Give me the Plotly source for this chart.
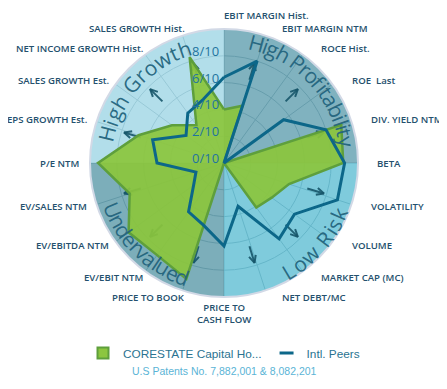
import math
import plotly.graph_objects as go

# ---------------- data ----------------
categories = [
    "EBIT MARGIN Hist.", "EBIT MARGIN NTM", "ROCE Hist.", "ROE  Last", "DIV. YIELD NTM",
    "BETA", "VOLATILITY", "VOLUME", "MARKET CAP (MC)", "NET DEBT/MC",
    "PRICE TO<br>CASH FLOW", "PRICE TO BOOK", "EV/EBIT NTM", "EV/EBITDA NTM", "EV/SALES NTM",
    "P/E NTM", "EPS GROWTH Est.", "SALES GROWTH Est.", "NET INCOME GROWTH Hist.", "SALES GROWTH Hist.",
]
corestate = [4.0, 4.5, 0.0, 0.0, 9.2, 8.9, 5.1, 4.4, 4.1, 0.0,
             0.0, 9.1, 8.5, 8.8, 7.4, 9.4, 6.7, 4.8, 3.5, 8.3]
peers = [6.4, 8.0, 0.0, 5.5, 8.0, 9.0, 8.9, 6.5, 7.0, 3.4,
         6.2, 4.9, 4.5, 2.8, 2.2, 5.0, 5.6, 3.5, 4.6, 5.0]
series_names = ["CORESTATE Capital Ho...", "Intl. Peers"]
radial_tickvals = [0, 2, 4, 6, 8]
radial_ticktext = ["0/10", "2/10", "4/10", "6/10", "8/10"]
quadrant_names = ["High Profitability", "Low Risk", "Undervalued", "High Growth"]
quadrant_colors = ["rgb(96,159,175)", "rgb(95,190,211)", "rgb(91,154,169)", "rgb(159,214,229)"]
patent_text = "U.S Patents No. 7,882,001 & 8,082,201"

GREEN_FILL = "rgba(139,198,60,0.92)"
GREEN_LINE = "#5e9f3c"
BLUE = "#0c6789"

# ---------------- geometry ----------------
OFF = 8                      # default page body margin
W, H = 447 - OFF, 389 - OFF  # figure size so the page fits the window
CX, CY, RP = 224 - OFF, 163 - OFF, 134
RMAX = 10
PX_PER_UNIT = RP / RMAX
n = len(categories)
step = 360 / n
theta = [i * step for i in range(n)]


def closed(v):
    return list(v) + [v[0]]


def paper(px, py):
    return px / W, 1 - py / H


fig = go.Figure()

# quadrant backgrounds (translucent so the grid shows through)
fig.add_trace(go.Barpolar(
    r=[RMAX] * 4, theta=[45, 135, 225, 315], width=[90] * 4,
    marker=dict(color=quadrant_colors, opacity=0.8, line=dict(width=0)),
    showlegend=False, hoverinfo="skip",
))

# direction arrows (outward) in every quadrant, drawn as line arrows
arrow_offsets = [17, 45, 73]
r_tail, r_tip, r_wing = 6.5, 7.8, 7.25
wing_deg = math.degrees(math.atan(3.5 / (r_wing * PX_PER_UNIT)))
ar, at = [], []
for q in range(4):
    for off in arrow_offsets:
        th = q * 90 + off
        ar += [r_tail, r_tip, None, r_wing, r_tip, r_wing, None]
        at += [th, th, None, th - wing_deg, th, th + wing_deg, None]
fig.add_trace(go.Scatterpolar(
    r=ar, theta=at, mode="lines",
    line=dict(color="rgba(22,85,105,0.9)", width=2),
    connectgaps=False, showlegend=False, hoverinfo="skip",
))

fig.add_trace(go.Scatterpolar(
    r=closed(corestate), theta=closed(theta), name=series_names[0],
    mode="lines", fill="toself", fillcolor=GREEN_FILL,
    line=dict(color=GREEN_LINE, width=2.5), showlegend=False,
))
fig.add_trace(go.Scatterpolar(
    r=closed(peers), theta=closed(theta), name=series_names[1],
    mode="lines", line=dict(color=BLUE, width=3), showlegend=False,
))
# legend entries
fig.add_trace(go.Scatterpolar(
    r=[None], theta=[None], name=series_names[0], mode="markers",
    marker=dict(symbol="square", size=11, color="#8cc63f", line=dict(color=GREEN_LINE, width=2)),
))
fig.add_trace(go.Scatterpolar(
    r=[None], theta=[None], name=series_names[1], mode="markers",
    marker=dict(symbol="line-ew", size=10, line=dict(color=BLUE, width=3)),
))

annotations = []

# ---------------- category labels around the circle ----------------
for th, lab in zip(theta, categories):
    s, c = math.sin(math.radians(th)), math.cos(math.radians(th))
    py = CY - 141 * c
    if abs(s) < 1e-6 and c < 0:
        px, xa, py = CX, "center", CY + 150
    elif abs(s) < 1e-6:
        px, xa, py = CX - 2, "left", CY - 148
    elif s > 0:
        px, xa = CX + 151 * s + 10 * c * c, "left"
    else:
        px, xa = CX + 146 * s + 3 + 6 * c * c, "right"
    x, y = paper(px, py)
    annotations.append(dict(
        x=x, y=y, xref="paper", yref="paper", text=lab, showarrow=False,
        xanchor=xa, yanchor="middle", align="center",
        font=dict(family="Open Sans", size=9.6, color="#24506d", weight=600),
    ))

# ---------------- curved quadrant titles ----------------
cw = {"H": .742, "i": .254, "g": .559, "h": .614, " ": .26, "G": .68, "r": .408, "o": .594,
      "w": .757, "t": .353, "P": .593, "f": .342, "a": .57, "b": .613, "l": .254, "y": .501,
      "L": .533, "R": .615, "s": .477, "k": .513, "U": .713, "n": .614, "d": .613, "e": .561,
      "v": .5, "u": .614}
# (first char angle, last char angle, radius px, top?) per quadrant title
title_geo = {
    "High Growth": (-76, -19, 121, True),
    "High Profitability": (15, 80, 124, True),
    "Low Risk": (149, 114, 126, False),
    "Undervalued": (247, 200, 121, False),
}
for name in quadrant_names:
    a0, a1, rr, top = title_geo[name]
    ws = [cw.get(ch, .55) for ch in name]
    centers = []
    acc = 0
    for w_ in ws:
        centers.append(acc + w_ / 2)
        acc += w_
    for ch, s in zip(name, centers):
        if ch == " ":
            continue
        frac = (s - centers[0]) / (centers[-1] - centers[0])
        th = a0 + (a1 - a0) * frac
        x, y = paper(CX + rr * math.sin(math.radians(th)), CY - rr * math.cos(math.radians(th)))
        annotations.append(dict(
            x=x, y=y, xref="paper", yref="paper", text=ch, showarrow=False,
            xanchor="center", yanchor="middle", textangle=th if top else th - 180,
            font=dict(family="Open Sans", size=21, color="rgba(35,100,125,0.95)"),
        ))

# radial tick labels, just left of the vertical radial axis
for v, t in zip(radial_tickvals, radial_ticktext):
    x, y = paper(CX - 3, CY - v * PX_PER_UNIT - 5)
    annotations.append(dict(
        x=x, y=y, xref="paper", yref="paper", text=t, showarrow=False,
        xanchor="right", yanchor="middle",
        font=dict(family="Open Sans", size=13, color="#1f74a0"),
    ))

x, y = paper(CX, 371 - OFF)
annotations.append(dict(
    x=x, y=y, xref="paper", yref="paper", text=patent_text, showarrow=False,
    xanchor="center", yanchor="middle",
    font=dict(family="Liberation Sans, Arial", size=10.5, color="#5ab4d6"),
))

GRID = "rgb(125,148,158)"
lx, ly = paper(CX, 353 - OFF)
fig.update_layout(
    width=W, height=H,
    margin=dict(l=0, r=0, t=0, b=0),
    paper_bgcolor="white",
    polar=dict(
        domain=dict(x=[(CX - RP) / W, (CX + RP) / W], y=[1 - (CY + RP) / H, 1 - (CY - RP) / H]),
        bgcolor="white",
        angularaxis=dict(
            type="linear", thetaunit="degrees", rotation=90, direction="clockwise",
            tickmode="array", tickvals=theta, showticklabels=False,
            showgrid=True, gridcolor=GRID, gridwidth=1,
            showline=True, linecolor="#d2d9e6", linewidth=2, ticks="",
        ),
        radialaxis=dict(
            range=[0, RMAX], angle=90,
            tickmode="array", tickvals=radial_tickvals, showticklabels=False,
            showline=False, ticks="", showgrid=True, gridcolor=GRID, gridwidth=1,
        ),
    ),
    showlegend=True,
    legend=dict(
        orientation="h", x=lx, xanchor="center", y=ly, yanchor="middle",
        font=dict(family="Liberation Sans, Arial", size=11.8, color="#2a7391"),
        bgcolor="rgba(0,0,0,0)", itemwidth=30,
    ),
    annotations=annotations,
)

fig.write_html("out.html")
